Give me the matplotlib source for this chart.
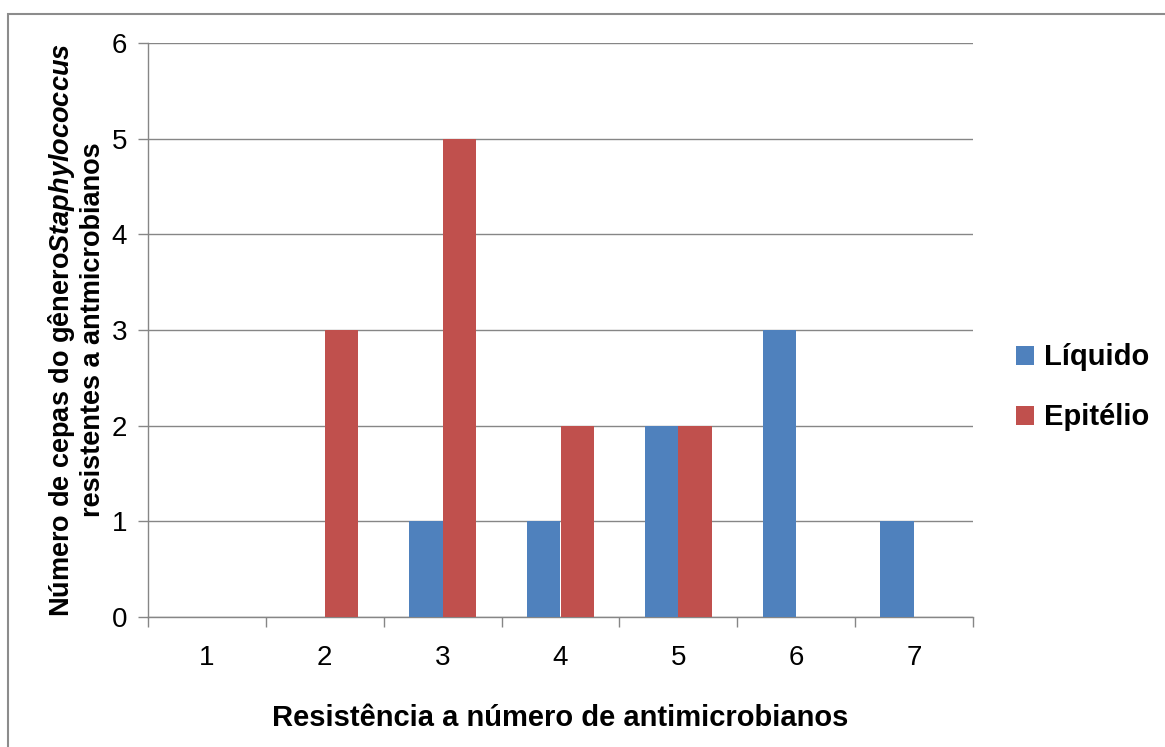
import numpy as np
import matplotlib.pyplot as plt
from matplotlib.patches import Rectangle

plt.rcParams['font.family'] = ['Liberation Sans', 'DejaVu Sans']
plt.rcParams['mathtext.fontset'] = 'custom'
plt.rcParams['mathtext.bfit'] = 'Liberation Sans:italic:bold'
plt.rcParams['mathtext.it'] = 'Liberation Sans:italic'
plt.rcParams['mathtext.bf'] = 'Liberation Sans:bold'
plt.rcParams['mathtext.rm'] = 'Liberation Sans'

categories = [1, 2, 3, 4, 5, 6, 7]
liquido = [0, 0, 1, 1, 2, 3, 1]
epitelio = [0, 3, 5, 2, 2, 0, 0]
series_names = ["Líquido", "Epitélio"]

blue = "#4F81BD"
red = "#C0504D"
grid_col = "#868686"

fig = plt.figure(figsize=(11.65, 7.47), dpi=100)
ax = fig.add_axes([148/1165, 130/747, 825/1165, 574/747])

x = np.arange(len(categories))
w = 1 / 3.5
ax.bar(x - w/2, liquido, w, color=blue, label=series_names[0], zorder=3)
ax.bar(x + w/2, epitelio, w, color=red, label=series_names[1], zorder=3)

ax.set_xlim(-0.5, len(categories) - 0.5)
ax.set_ylim(0, 6)
ax.set_yticks(range(7))
ax.yaxis.grid(True, color=grid_col, linewidth=1, zorder=0)
ax.set_axisbelow(True)

ax.set_xticks(x)
ax.set_xticklabels([str(c) for c in categories])
ax.set_xticks(np.arange(len(categories) + 1) - 0.5, minor=True)
ax.tick_params(axis='x', which='major', length=0, pad=20, labelsize=20)
ax.tick_params(axis='x', which='minor', length=7, color=grid_col, width=1)
ax.tick_params(axis='y', length=7, color=grid_col, width=1, pad=8, labelsize=20)

for s in ['top', 'right']:
    ax.spines[s].set_visible(False)
for s in ['left', 'bottom']:
    ax.spines[s].set_color(grid_col)
    ax.spines[s].set_linewidth(1)

ax.set_xlabel("Resistência a número de antimicrobianos", fontsize=21,
              fontweight='bold', labelpad=24)
ax.set_ylabel("Número de cepas do gênero$\\mathbfit{Staphylococcus}$\nresistentes a antmicrobianos",
              fontsize=19.5, fontweight='bold', labelpad=4, linespacing=1.15)

leg = ax.legend(loc='center left', bbox_to_anchor=(1.052, 0.40), frameon=False,
                prop={'size': 21, 'weight': 'bold'}, handlelength=0.62,
                handleheight=0.62, handletextpad=0.35, labelspacing=1.1,
                borderpad=0, borderaxespad=0)

fig.patches.append(Rectangle((8/1165, -0.1), 2, (747 - 14)/747 + 0.1,
                             transform=fig.transFigure, fill=False,
                             edgecolor="#8c8c8c", linewidth=1.5))

fig.savefig("out.png", dpi=100)
